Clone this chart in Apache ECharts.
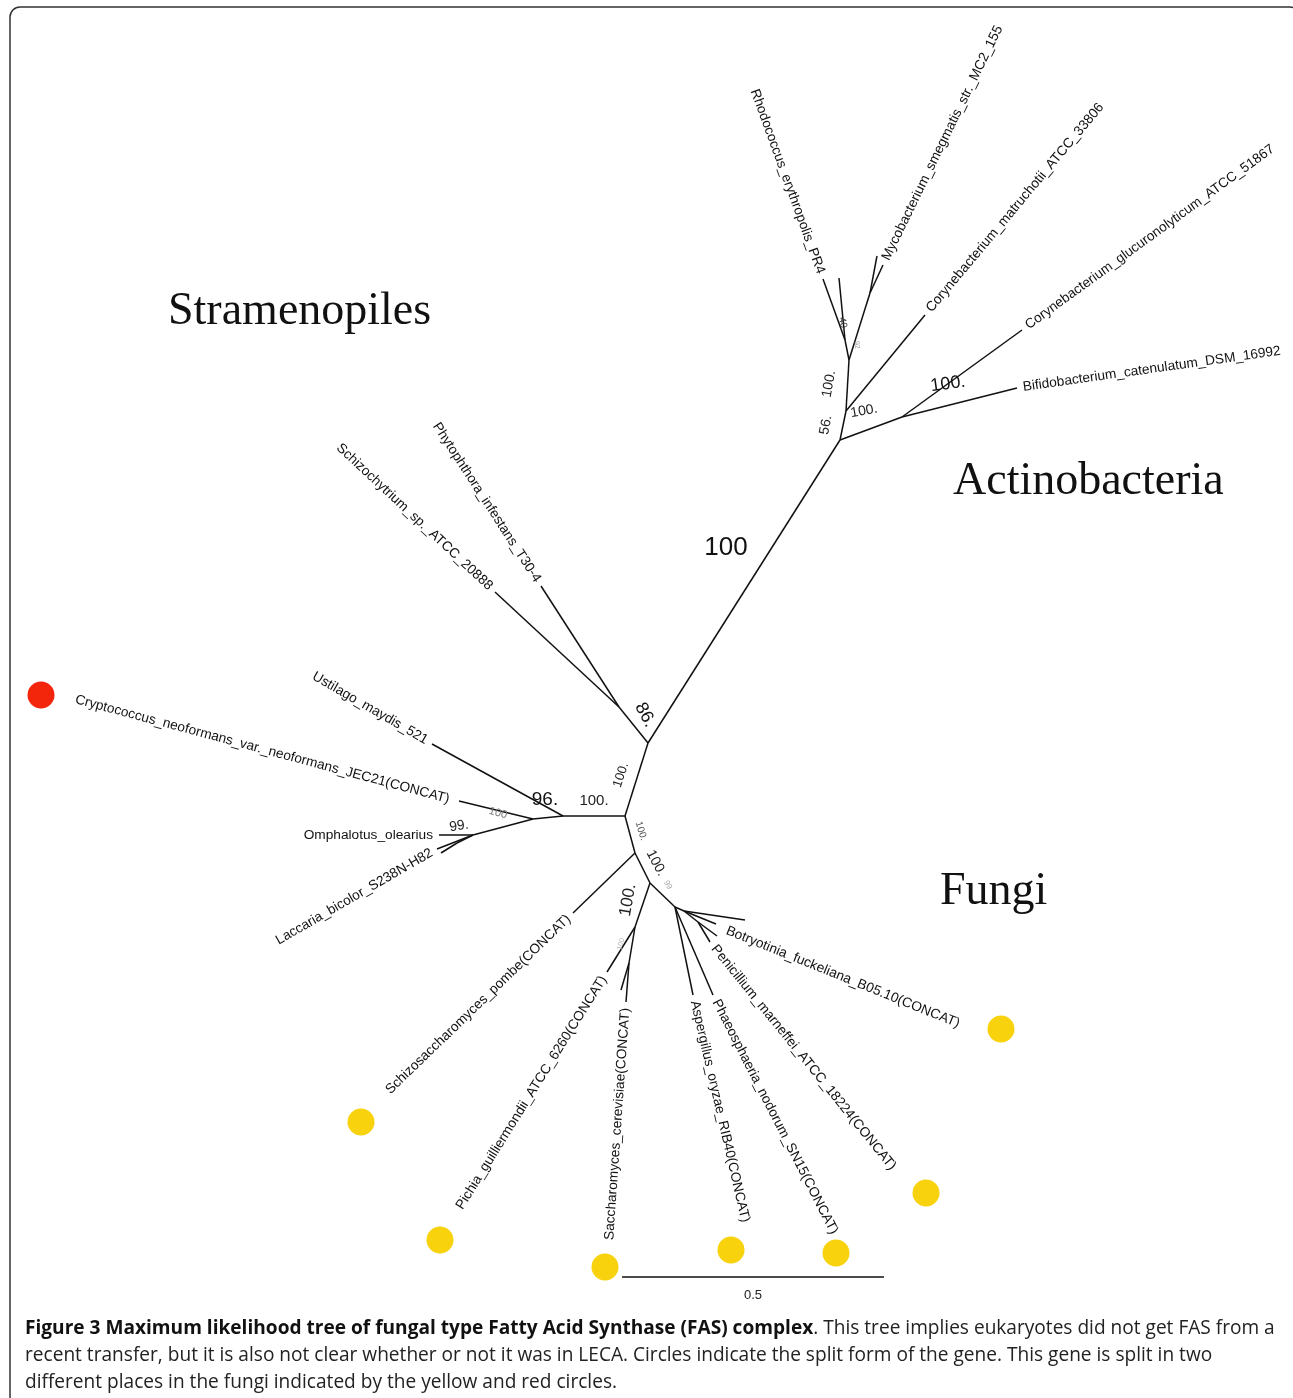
<!DOCTYPE html>
<html>
<head>
<meta charset="utf-8">
<title>FAS tree</title>
<script src="https://cdn.jsdelivr.net/npm/echarts@6/dist/echarts.min.js"></script>
<style>
  html, body { margin: 0; padding: 0; background: #fff; }
  #chart { width: 1293px; height: 1398px; }
</style>
</head>
<body>
<div id="chart"></div>
<script>
// tree nodes (x, y in figure units)
const nodes = {
  C0: [625, 816], N86: [648, 743], S0: [619, 707],
  Phyto: [541, 586], Schizoch: [495, 592],
  A0: [840, 440], A1: [902, 417], A2: [846, 411], A3: [849, 360], A4: [845, 340], A5: [870, 293],
  Bifido: [1017, 388], CorGluc: [1022, 330], CorMatr: [925, 315],
  Rhodo: [823, 279], Rhodo2: [839, 278], Myco: [883, 265], Myco2: [877, 256],
  F0: [563, 816], F1: [533, 819], F2: [473, 835], F3: [457, 843],
  Ustilago: [432, 744], Crypto: [459, 801], Omphal: [439, 835], Laccaria: [437, 849], Lacc2: [441, 853],
  G0: [635, 853], G1: [650, 883], G2: [635, 927], G3: [629, 963], G4: [675, 907], G6: [684, 911], G7: [698, 922],
  SchizoS: [573, 913], Pichia: [607, 972], Sacch: [626, 1002], Sacch2: [621, 990],
  Asperg: [693, 995], Phaeo: [713, 995], Penic: [710, 942], Penic2: [717, 936],
  Botry: [745, 920], Botry2: [716, 924]
};

const edges = [
  ['C0', 'N86'], ['N86', 'S0'], ['S0', 'Phyto'], ['S0', 'Schizoch'], ['N86', 'A0'],
  ['A0', 'A1'], ['A0', 'A2'], ['A1', 'Bifido'], ['A1', 'CorGluc'], ['A2', 'CorMatr'], ['A2', 'A3'],
  ['A3', 'A4'], ['A4', 'Rhodo'], ['A4', 'Rhodo2'], ['A3', 'A5'], ['A5', 'Myco'], ['A5', 'Myco2'],
  ['C0', 'F0'], ['F0', 'Ustilago'], ['F0', 'F1'], ['F1', 'Crypto'], ['F1', 'F2'],
  ['F2', 'Omphal'], ['F2', 'Laccaria'], ['F2', 'F3'], ['F3', 'Lacc2'],
  ['C0', 'G0'], ['G0', 'SchizoS'], ['G0', 'G1'], ['G1', 'G2'], ['G2', 'Pichia'], ['G2', 'G3'],
  ['G3', 'Sacch'], ['G3', 'Sacch2'], ['G1', 'G4'], ['G4', 'Asperg'], ['G4', 'Phaeo'], ['G4', 'G6'],
  ['G6', 'Botry'], ['G6', 'Botry2'], ['G6', 'G7'], ['G7', 'Penic'], ['G7', 'Penic2']
];

// tip names
const tipNodes = ['Rhodo', 'Myco', 'CorMatr', 'CorGluc', 'Bifido', 'Phyto', 'Schizoch', 'Ustilago', 'Crypto',
  'Omphal', 'Laccaria', 'SchizoS', 'Pichia', 'Sacch', 'Asperg', 'Phaeo', 'Penic', 'Botry'];
const tipNames = [
  'Rhodococcus_erythropolis_PR4', 'Mycobacterium_smegmatis_str._MC2_155', 'Corynebacterium_matruchotii_ATCC_33806',
  'Corynebacterium_glucuronolyticum_ATCC_51867', 'Bifidobacterium_catenulatum_DSM_16992',
  'Phytophthora_infestans_T30-4', 'Schizochytrium_sp._ATCC_20888', 'Ustilago_maydis_521',
  'Cryptococcus_neoformans_var._neoformans_JEC21(CONCAT)', 'Omphalotus_olearius', 'Laccaria_bicolor_S238N-H82',
  'Schizosaccharomyces_pombe(CONCAT)', 'Pichia_guilliermondii_ATCC_6260(CONCAT)', 'Saccharomyces_cerevisiae(CONCAT)',
  'Aspergillus_oryzae_RIB40(CONCAT)', 'Phaeosphaeria_nodorum_SN15(CONCAT)', 'Penicillium_marneffei_ATCC_18224(CONCAT)',
  'Botryotinia_fuckeliana_B05.10(CONCAT)'
];

// bootstrap support values and where they sit
const supportText = ['100', '86.', '100.', '100.', '96.', '100', '99.', '100.', '100.', '99', '100.', '100',
  '56.', '100.', '100.', '100.', '40.', '92'];
const supportPos = [[726, 548], [645, 715], [621, 775], [594, 801], [545, 800], [498, 813], [459, 826], [641, 831],
  [656, 863], [668, 885], [628, 900], [621, 944], [826, 425], [829, 384], [864, 411], [948, 384], [843, 324], [857, 345]];

// split-gene markers
const splitColors = ['red', 'yellow', 'yellow', 'yellow', 'yellow', 'yellow', 'yellow', 'yellow'];
const splitPos = [[41, 695], [361, 1122], [440, 1240], [605, 1267], [731, 1250], [836, 1253], [926, 1193], [1001, 1029]];

const cladeNames = ['Stramenopiles', 'Actinobacteria', 'Fungi'];
const cladePos = [[168, 312], [953, 482], [940, 892]];

const scaleLength = 0.5;
const scaleStart = [622, 1277];
const unitsPerBranch = 524; // figure units per unit of branch length

// ---- layout / styles (not data) ----
// [angle, align, extra dx, extra dy]
const tipLayout = {
  Rhodo: [-70, 'right'], Myco: [64, 'left'], CorMatr: [50, 'left'], CorGluc: [36, 'left'], Bifido: [8, 'left'],
  Phyto: [-57, 'right'], Schizoch: [-43, 'right'], Ustilago: [-30, 'right'], Crypto: [-15, 'right', -4, 0],
  Omphal: [0, 'right'], Laccaria: [30, 'right'], SchizoS: [44, 'right'], Pichia: [58, 'right'], Sacch: [86, 'right'],
  Asperg: [-77, 'left'], Phaeo: [-63, 'left'], Penic: [-51, 'left'], Botry: [-22, 'left', -24, 8]
};
// [fontSize, rotation, colour]
const supportStyle = [
  [26, 0, '#111'], [18, -62, '#111'], [13, 72, '#222'], [15, 0, '#222'], [19, 0, '#111'], [11, -15, '#777'],
  [14, 8, '#222'], [10, -72, '#555'], [14, -62, '#222'], [8, -60, '#aaa'], [17, 80, '#222'], [7, 75, '#aaa'],
  [14, 80, '#222'], [14, 80, '#222'], [14, 10, '#222'], [18, 8, '#111'], [10, -80, '#333'], [7, -80, '#999']
];
const markerColor = { red: '#f3260c', yellow: '#f8d20c' };

const chart = echarts.init(document.getElementById('chart'));

function textSeries(items, render) {
  return {
    type: 'custom',
    coordinateSystem: 'cartesian2d',
    silent: true,
    data: items,
    renderItem: render
  };
}

const option = {
  backgroundColor: '#fff',
  animation: false,
  grid: { left: 0, right: 0, top: 0, bottom: 0 },
  xAxis: { type: 'value', min: 0, max: 1293, show: false },
  yAxis: { type: 'value', min: 0, max: 1398, inverse: true, show: false },
  graphic: [
    {
      type: 'rect',
      shape: { x: 10, y: 7, width: 1290, height: 1420, r: 10 },
      style: { fill: 'none', stroke: '#333', lineWidth: 1.5 },
      z: 0
    },
    {
      type: 'text',
      left: 25,
      top: 1315,
      style: {
        text: '{b|Figure 3 Maximum likelihood tree of fungal type Fatty Acid Synthase (FAS) complex}. This tree implies eukaryotes did not get FAS from a\n' +
          'recent transfer, but it is also not clear whether or not it was in LECA. Circles indicate the split form of the gene. This gene is split in two\n' +
          'different places in the fungi indicated by the yellow and red circles.',
        font: '19.1px "Open Sans"',
        fill: '#222',
        lineHeight: 27,
        rich: {
          b: { font: 'bold 19.1px "Open Sans"', fill: '#111', lineHeight: 27 }
        }
      }
    }
  ],
  series: [
    {
      type: 'lines',
      coordinateSystem: 'cartesian2d',
      silent: true,
      data: edges.map(e => ({ coords: [nodes[e[0]], nodes[e[1]]] })),
      lineStyle: { color: '#111', width: 1.5, opacity: 1 },
      z: 2
    },
    {
      // scale bar
      type: 'lines',
      coordinateSystem: 'cartesian2d',
      silent: true,
      data: [{ coords: [scaleStart, [scaleStart[0] + scaleLength * unitsPerBranch, scaleStart[1]]] }],
      lineStyle: { color: '#111', width: 1.5, opacity: 1 }
    },
    textSeries([[scaleStart[0] + scaleLength * unitsPerBranch / 2, scaleStart[1] + 18]], (params, api) => {
      const p = api.coord([api.value(0), api.value(1)]);
      return { type: 'text', x: p[0], y: p[1], style: { text: String(scaleLength), font: '13px "Liberation Sans"', fill: '#222', align: 'center', verticalAlign: 'middle' } };
    }),
    textSeries(tipNodes.map(n => nodes[n]), (params, api) => {
      const key = tipNodes[params.dataIndex];
      const lay = tipLayout[key];
      const a = lay[0] * Math.PI / 180;
      const sgn = lay[1] === 'right' ? -1 : 1;
      const p = api.coord([api.value(0), api.value(1)]);
      const gap = 6;
      return {
        type: 'text',
        x: p[0] + sgn * gap * Math.cos(a) + (lay[2] || 0),
        y: p[1] - sgn * gap * Math.sin(a) + (lay[3] || 0),
        rotation: a,
        style: {
          text: tipNames[params.dataIndex],
          font: '13.7px "Liberation Sans"',
          fill: '#111',
          align: lay[1],
          verticalAlign: 'middle'
        }
      };
    }),
    textSeries(supportPos, (params, api) => {
      const s = supportStyle[params.dataIndex];
      const p = api.coord([api.value(0), api.value(1)]);
      return {
        type: 'text', x: p[0], y: p[1], rotation: s[1] * Math.PI / 180,
        style: { text: supportText[params.dataIndex], font: s[0] + 'px "Liberation Sans"', fill: s[2], align: 'center', verticalAlign: 'middle' }
      };
    }),
    textSeries(cladePos, (params, api) => {
      const p = api.coord([api.value(0), api.value(1)]);
      return {
        type: 'text', x: p[0], y: p[1],
        style: { text: cladeNames[params.dataIndex], font: '46px "Liberation Serif"', fill: '#111', align: 'left', verticalAlign: 'middle' }
      };
    }),
    {
      type: 'scatter',
      silent: true,
      symbol: 'circle',
      symbolSize: 27,
      data: splitPos.map((p, i) => ({ value: p, itemStyle: { color: markerColor[splitColors[i]], opacity: 1 } })),
      z: 3
    }
  ]
};

chart.setOption(option);
</script>
</body>
</html>
